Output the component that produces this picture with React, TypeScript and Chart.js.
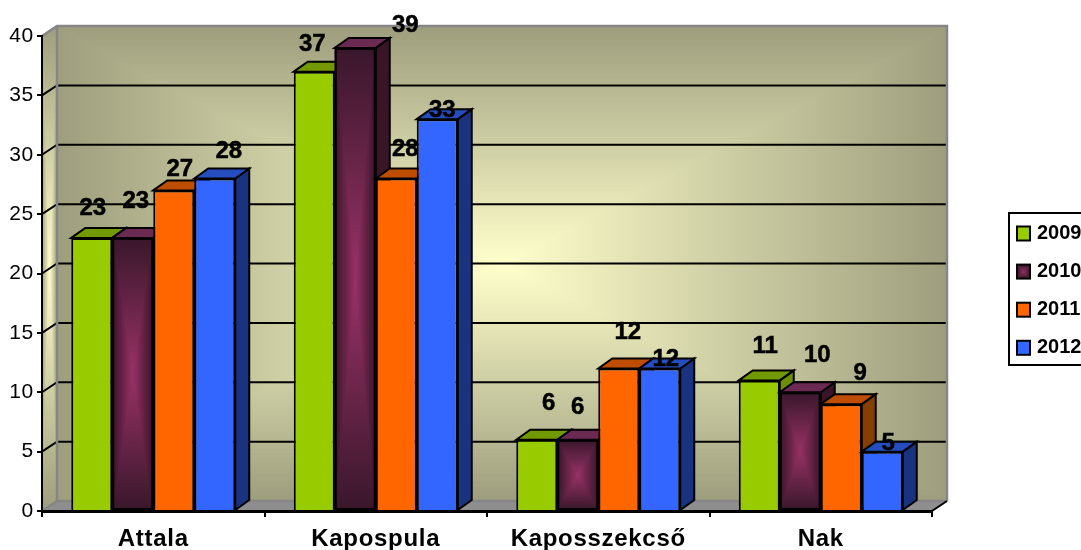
import React, { useEffect, useRef } from "react";
import { Chart, registerables } from "chart.js";

Chart.register(...registerables);

const categories = ["Attala", "Kapospula", "Kaposszekcső", "Nak"];
const years = ["2009", "2010", "2011", "2012"];
const values2009 = [23, 37, 6, 11];
const values2010 = [23, 39, 6, 10];
const values2011 = [27, 28, 12, 9];
const values2012 = [28, 33, 12, 5];
const frontColors = ["#99CC00", "#993366", "#FF6600", "#3366FF"];
const topColors = ["#739900", "#6b2a52", "#BF4D00", "#264DBF"];
const sideColors = ["#6b8f00", "#3a1528", "#853F00", "#1A3380"];
// Manual shift of each value label from its bar's top-centre, as in the source chart [dataset][category]
const labelShiftX = [[1, -2, 12, 6], [3, 50, 0, 17], [6, 9, 9, 19], [14, 5, 6, 6]];
const labelShiftY = [[-30, -27, -36, -34], [-37, -23, -32, -37], [-21, -29, -36, -31], [-27, -9, -9, -8]];

const DX = 15;
const DY = -10;
const FONT = '"Liberation Sans", Arial, sans-serif';
const WALL_EDGE = [158, 158, 126];
const WALL_CENTRE = [255, 255, 204];

function mix(a: number[], b: number[], t: number) {
  const c = a.map((v, i) => Math.round(v + (b[i] - v) * t));
  return `rgb(${c[0]},${c[1]},${c[2]})`;
}

function pathGradientRect(ctx: CanvasRenderingContext2D, x: number, y: number, w: number, h: number, edge: number[], centre: number[]) {
  const steps = Math.ceil(Math.max(w, h) / 2);
  for (let i = 0; i <= steps; i++) {
    const t = i / steps;
    ctx.fillStyle = mix(edge, centre, t);
    ctx.fillRect(x + (w / 2) * t, y + (h / 2) * t, w * (1 - t), h * (1 - t));
  }
}

const scene = {
  id: "scene3d",
  beforeDraw(chart: any) {
    const { ctx, chartArea: a, scales } = chart;
    const y = scales.y;
    const bl = a.left + DX, bt = a.top + DY, br = a.right + DX, bb = a.bottom + DY;
    (ctx as any).letterSpacing = "0.7px";
    ctx.save();
    // back wall
    pathGradientRect(ctx, bl, bt, br - bl, bb - bt, WALL_EDGE, WALL_CENTRE);
    // side wall
    ctx.save();
    ctx.beginPath();
    ctx.moveTo(a.left, a.top);
    ctx.lineTo(bl, bt);
    ctx.lineTo(bl, bb);
    ctx.lineTo(a.left, a.bottom);
    ctx.closePath();
    ctx.clip();
    pathGradientRect(ctx, a.left, bt, DX, a.bottom - bt, WALL_EDGE, WALL_CENTRE);
    ctx.restore();
    // floor
    ctx.fillStyle = "#8E8E8E";
    ctx.beginPath();
    ctx.moveTo(a.left, a.bottom);
    ctx.lineTo(bl, bb);
    ctx.lineTo(br, bb);
    ctx.lineTo(a.right, a.bottom);
    ctx.closePath();
    ctx.fill();
    // grid
    ctx.strokeStyle = "#000";
    ctx.lineWidth = 2;
    for (const t of y.ticks) {
      const py = y.getPixelForValue(t.value);
      if (t.value === 0 || t.value === 40) continue;
      ctx.beginPath();
      ctx.moveTo(a.left, py);
      ctx.lineTo(bl, py + DY);
      ctx.lineTo(br, py + DY);
      ctx.stroke();
    }
    // wall frame
    ctx.strokeStyle = "#868686";
    ctx.lineWidth = 2.5;
    ctx.beginPath();
    ctx.moveTo(a.left, a.top);
    ctx.lineTo(bl, bt);
    ctx.lineTo(br, bt);
    ctx.lineTo(br, bb);
    ctx.moveTo(bl, bt);
    ctx.lineTo(bl, bb);
    ctx.lineTo(a.left, a.bottom);
    ctx.moveTo(bl, bb);
    ctx.lineTo(br, bb);
    ctx.stroke();
    ctx.strokeStyle = "#000";
    ctx.lineWidth = 2;
    ctx.beginPath();
    ctx.moveTo(br, bb);
    ctx.lineTo(a.right, a.bottom);
    ctx.stroke();
    ctx.restore();
  },
  beforeDatasetsDraw(chart: any) {
    const { ctx } = chart;
    const ddx = 14;
    const ddy = -10;
    chart.data.datasets.forEach((_ds: any, i: number) => {
      const meta = chart.getDatasetMeta(i);
      ctx.save();
      ctx.strokeStyle = "#000";
      ctx.lineWidth = 2;
      for (const el of meta.data) {
        const { x, y, base, width } = el.getProps(["x", "y", "base", "width"], true);
        const l = x - width / 2;
        const r = x + width / 2;
        // side face
        ctx.fillStyle = sideColors[i];
        ctx.beginPath();
        ctx.moveTo(r, y);
        ctx.lineTo(r + ddx, y + ddy);
        ctx.lineTo(r + ddx, base + ddy);
        ctx.lineTo(r, base);
        ctx.closePath();
        ctx.fill();
        ctx.stroke();
        // top face
        ctx.fillStyle = topColors[i];
        ctx.beginPath();
        ctx.moveTo(l, y);
        ctx.lineTo(l + ddx, y + ddy);
        ctx.lineTo(r + ddx, y + ddy);
        ctx.lineTo(r, y);
        ctx.closePath();
        ctx.fill();
        ctx.stroke();
      }
      ctx.restore();
      // front faces drawn by the library, left to right
      meta.controller.draw();
      if (i === 1) {
        ctx.save();
        for (const el of meta.data) {
          const { x, y, base, width } = el.getProps(["x", "y", "base", "width"], true);
          pathGradientRect(ctx, x - width / 2, y, width, base - y, [58, 24, 44], [153, 51, 102]);
          ctx.strokeStyle = "#000";
          ctx.lineWidth = 2;
          ctx.strokeRect(x - width / 2 + 1, y + 1, width - 2, base - y - 2);
        }
        ctx.restore();
      }
    });
  },
  beforeDatasetDraw() {
    // everything is painted in beforeDatasetsDraw so that later series overlap earlier ones
    return false;
  },
  afterDatasetsDraw(chart: any) {
    const { ctx } = chart;
    ctx.save();
    (ctx as any).letterSpacing = "0px";
    ctx.font = `bold 24px ${FONT}`;
    ctx.fillStyle = "#000";
    ctx.strokeStyle = "#000";
    ctx.lineWidth = 0.5;
    ctx.textAlign = "center";
    ctx.textBaseline = "middle";
    chart.data.datasets.forEach((ds: any, i: number) => {
      const meta = chart.getDatasetMeta(i);
      meta.data.forEach((el: any, j: number) => {
        const tx = el.x + labelShiftX[i][j];
        const ty = el.y + labelShiftY[i][j];
        ctx.fillText(String(ds.data[j]), tx, ty);
        ctx.strokeText(String(ds.data[j]), tx, ty);
      });
    });
    // legend
    const boxX = 1009, boxY = 213, boxW = 90, boxH = 152;
    ctx.fillStyle = "#fff";
    ctx.fillRect(boxX, boxY, boxW, boxH);
    ctx.strokeStyle = "#000";
    ctx.lineWidth = 2;
    ctx.strokeRect(boxX, boxY, boxW, boxH);
    ctx.font = `bold 20px ${FONT}`;
    ctx.textAlign = "left";
    years.forEach((yr, i) => {
      const cy = 233.5 + i * 38.1;
      if (i === 1) {
        pathGradientRect(ctx, 1017, cy - 7, 13, 14, [58, 24, 44], [153, 51, 102]);
      } else {
        ctx.fillStyle = frontColors[i];
        ctx.fillRect(1017, cy - 7, 13, 14);
      }
      ctx.strokeRect(1017, cy - 7, 13, 14);
      ctx.fillStyle = "#000";
      ctx.fillText(yr, 1037, cy);
    });
    ctx.restore();
  },
};

export default function App() {
  const ref = useRef<HTMLCanvasElement>(null);
  useEffect(() => {
    const mk = (label: string, data: number[], i: number) => ({
      label,
      data,
      backgroundColor: frontColors[i],
      borderColor: "#000",
      borderWidth: 2,
    });
    const chart = new Chart(ref.current!, {
      type: "bar",
      data: {
        labels: categories,
        datasets: [
          mk(years[0], values2009, 0),
          mk(years[1], values2010, 1),
          mk(years[2], values2011, 2),
          mk(years[3], values2012, 3),
        ],
      },
      plugins: [scene],
      options: {
        responsive: false,
        animation: false,
        layout: { padding: { left: 0, top: 36, right: 149, bottom: 0 } },
        plugins: { legend: { display: false }, tooltip: { enabled: false } },
        datasets: { bar: { categoryPercentage: 0.737, barPercentage: 1 } },
        scales: {
          x: {
            afterFit: (s: any) => { s.height = 39; },
            grid: { drawOnChartArea: false, drawTicks: true, tickLength: 6, color: "#000", lineWidth: 2 },
            border: { display: true, color: "#000", width: 3 },
            ticks: { color: "#000", padding: 8, font: { family: FONT, size: 24, weight: "bold" }, maxRotation: 0 },
          },
          y: {
            min: 0,
            max: 40,
            afterFit: (s: any) => { s.width = 42; },
            grid: { drawOnChartArea: false, drawTicks: true, tickLength: 5, color: "#000", lineWidth: 2 },
            border: { display: true, color: "#000", width: 2 },
            ticks: { stepSize: 5, color: "#000", padding: 3, font: { family: FONT, size: 21 } },
          },
        },
      } as any,
    });
    return () => chart.destroy();
  }, []);
  return (
    <div style={{ position: "absolute", left: 0, top: 0, width: 1081, height: 550, overflow: "hidden", background: "#fff" }}>
      <canvas ref={ref} width={1081} height={550} style={{ display: "block" }} />
    </div>
  );
}
